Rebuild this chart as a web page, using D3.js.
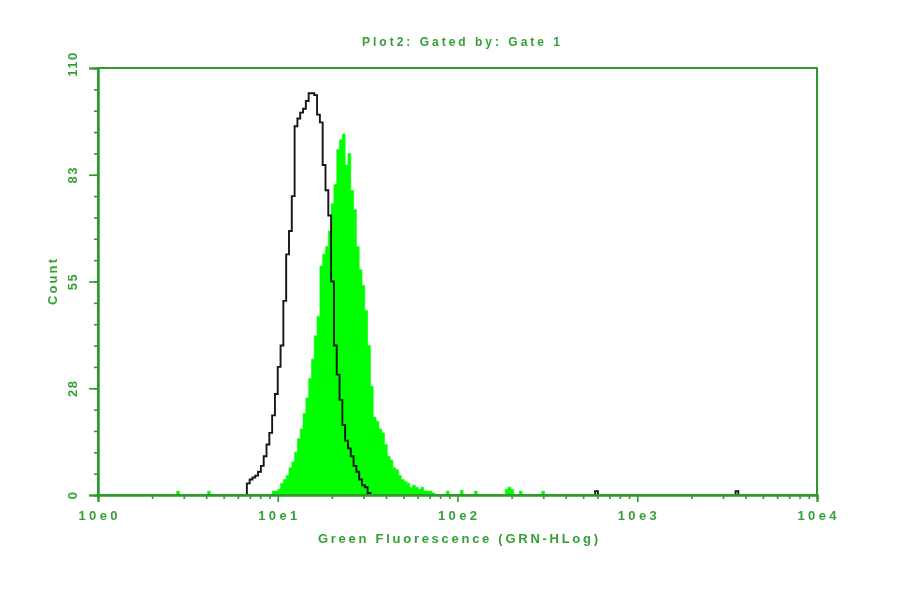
<!DOCTYPE html>
<html>
<head>
<meta charset="utf-8">
<script src="https://cdn.jsdelivr.net/npm/d3@7"></script>
<style>
  html, body { margin: 0; padding: 0; background: #ffffff; }
  svg { display: block; }
  text { font-family: "Liberation Sans", Arial, sans-serif; font-weight: bold; fill: #34a034; }
</style>
</head>
<body>
<svg id="chart" width="900" height="594"></svg>
<script>
// ---- data ----
const titleText = "Plot2:  Gated by: Gate 1";
const xLabelText = "Green Fluorescence (GRN-HLog)";
const yLabelText = "Count";
const xTickValues = [1, 10, 100, 1000, 10000];
const xTickLabels = ["10e0", "10e1", "10e2", "10e3", "10e4"];
const yTickValues = [0, 27.5, 55, 82.5, 110];
const yTickLabels = ["0", "28", "55", "83", "110"];
const channelsPerDecade = 256;
const channelsPerBin = 4;

// control (black outline) histogram: counts per bin starting at bin 53
const controlStartBin = 53;
const controlCounts = [3, 4, 4.5, 5, 6, 7.5, 10, 13, 16, 20.5, 26, 33, 38.5, 50, 62, 68, 77, 95, 97, 98.5,
  99.5, 101.5, 103.5, 103.5, 103, 98, 96, 85, 78.5, 72, 55, 38.5, 31, 24.5, 18, 14, 12, 10, 7.5, 6,
  4, 2.5, 2, 0.5];
const controlScatter = [[177, 1], [227, 1]];

// stained sample (green filled) histogram: counts per bin starting at bin 62
const sampleStartBin = 62;
const sampleCounts = [1, 1, 1.5, 3, 4, 5, 7, 8.5, 11, 14.5, 17, 21, 25, 30, 35, 41, 46, 59, 62, 64,
  68, 75, 80, 89, 91.5, 93, 85, 88, 78.5, 73.5, 64, 58, 54, 47.5, 38.5, 28, 20, 19, 17, 16,
  13, 10, 9, 7, 6.5, 5, 4, 3.5, 3, 2, 2.5, 2, 1.5, 2, 1, 1, 1, 0.5];
const sampleScatter = [[28, 1], [39, 1], [124, 1], [129, 1.2], [134, 1], [145, 1.5], [146, 2], [147, 1.5], [150, 1], [158, 1]];

// ---- drawing ----
const axisColor = "#2f9a2f";
const svg = d3.select("#chart");
const defs = svg.append("defs");
defs.append("filter").attr("id", "soft")
  .attr("x", "-5%").attr("y", "-5%").attr("width", "110%").attr("height", "110%")
  .append("feGaussianBlur").attr("stdDeviation", 0.55);
const root = svg.append("g").attr("filter", "url(#soft)");

const plot = { left: 98, right: 817, top: 68, bottom: 495 };

const x = d3.scaleLog().domain([1, 10000]).range([plot.left, plot.right]);
const y = d3.scaleLinear().domain([0, 110]).range([plot.bottom, plot.top]);

const binLo = k => Math.pow(10, k * channelsPerBin / channelsPerDecade);
const binHi = k => Math.pow(10, (k + 1) * channelsPerBin / channelsPerDecade);

function toRuns(startBin, counts, scatter) {
  const m = new Map();
  counts.forEach((c, i) => m.set(startBin + i, c));
  scatter.forEach(([k, c]) => m.set(k, c));
  const keys = Array.from(m.keys()).sort((a, b) => a - b);
  const runs = [];
  let cur = null;
  keys.forEach(k => {
    if (cur && k === cur[cur.length - 1].k + 1) cur.push({ k, c: m.get(k) });
    else { cur = [{ k, c: m.get(k) }]; runs.push(cur); }
  });
  return runs;
}

function stepPath(run, closed) {
  const p = d3.path();
  p.moveTo(x(binLo(run[0].k)), y(0));
  run.forEach(d => {
    p.lineTo(x(binLo(d.k)), y(d.c));
    p.lineTo(x(binHi(d.k)), y(d.c));
  });
  p.lineTo(x(binHi(run[run.length - 1].k)), y(0));
  if (closed) p.closePath();
  return p.toString();
}

// green filled histogram
root.append("g").selectAll("path")
  .data(toRuns(sampleStartBin, sampleCounts, sampleScatter))
  .join("path")
  .attr("d", d => stepPath(d, true))
  .attr("fill", "#00ff00")
  .attr("stroke", "#00ff00")
  .attr("stroke-width", 0.6);

// black outline histogram
root.append("g").selectAll("path")
  .data(toRuns(controlStartBin, controlCounts, controlScatter))
  .join("path")
  .attr("d", d => stepPath(d, false))
  .attr("fill", "none")
  .attr("stroke", "#151515")
  .attr("stroke-width", 1.9)
  .attr("stroke-linejoin", "miter");

// frame
root.append("rect")
  .attr("x", plot.left).attr("y", plot.top)
  .attr("width", plot.right - plot.left).attr("height", plot.bottom - plot.top)
  .attr("fill", "none").attr("stroke", axisColor).attr("stroke-width", 2);

// x axis with log minor ticks
const xMinor = [];
for (let d = 0; d < 4; d++) for (let m = 2; m <= 9; m++) xMinor.push(m * Math.pow(10, d));
const xAxisG = root.append("g").attr("transform", `translate(0,${plot.bottom})`);
xAxisG.call(d3.axisBottom(x).tickValues(xMinor).tickSize(4).tickFormat(""));
xAxisG.append("g").call(d3.axisBottom(x).tickValues(xTickValues).tickSize(7).tickFormat(""));
xAxisG.selectAll("path.domain").attr("stroke", axisColor).attr("stroke-width", 2);
xAxisG.selectAll("line").attr("stroke", axisColor).attr("stroke-width", 1.6);

// x tick labels
root.append("g").selectAll("text")
  .data(xTickValues)
  .join("text")
  .attr("x", d => x(d))
  .attr("y", 520)
  .attr("text-anchor", "middle")
  .attr("textLength", 39).attr("lengthAdjust", "spacing")
  .style("font-size", "13px")
  .text((d, i) => xTickLabels[i]);

// y axis with minor ticks
const yMinor = d3.range(0, 110.01, 5.5);
const yAxisG = root.append("g").attr("transform", `translate(${plot.left},0)`);
yAxisG.call(d3.axisLeft(y).tickValues(yMinor).tickSize(4).tickFormat(""));
yAxisG.append("g").call(d3.axisLeft(y).tickValues(yTickValues).tickSize(9).tickFormat(""));
yAxisG.selectAll("path.domain").attr("stroke", axisColor).attr("stroke-width", 2);
yAxisG.selectAll("line").attr("stroke", axisColor).attr("stroke-width", 1.6);

// y tick labels (rotated)
root.append("g").selectAll("text")
  .data(yTickValues)
  .join("text")
  .attr("transform", (d, i) => `translate(77,${y(d) - (i === 4 ? 4 : 0)}) rotate(-90)`)
  .attr("text-anchor", "middle")
  .style("font-size", "13px")
  .style("letter-spacing", "1.5px")
  .text((d, i) => yTickLabels[i]);

// title and axis labels
root.append("text")
  .attr("x", 461).attr("y", 46)
  .attr("text-anchor", "middle")
  .attr("textLength", 198).attr("lengthAdjust", "spacing")
  .style("font-size", "12px")
  .text(titleText);

root.append("text")
  .attr("x", 458).attr("y", 543)
  .attr("text-anchor", "middle")
  .attr("textLength", 280).attr("lengthAdjust", "spacing")
  .style("font-size", "13px")
  .text(xLabelText);

root.append("text")
  .attr("transform", `translate(57,282) rotate(-90)`)
  .attr("text-anchor", "middle")
  .attr("textLength", 46).attr("lengthAdjust", "spacing")
  .style("font-size", "13px")
  .text(yLabelText);
</script>
</body>
</html>
